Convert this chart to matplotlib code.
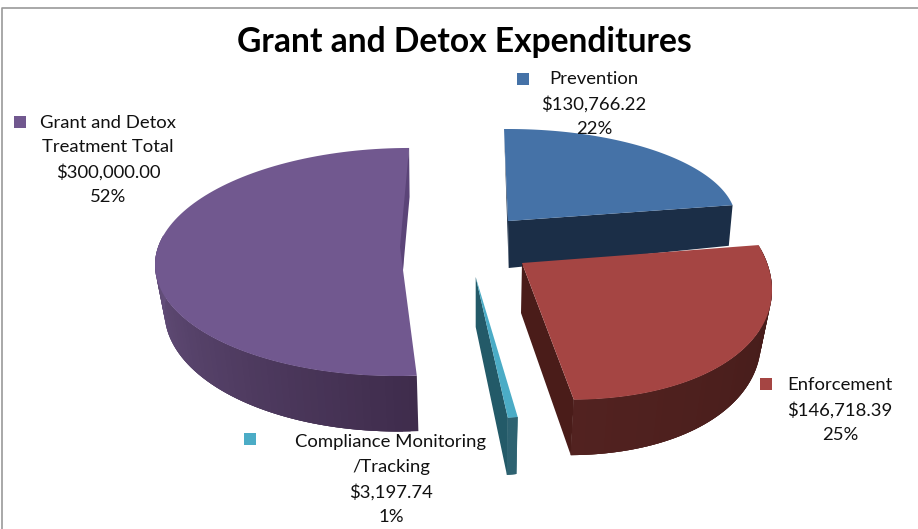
import numpy as np
import matplotlib
matplotlib.use("Agg")
import matplotlib.pyplot as plt
from matplotlib.patches import Polygon, Rectangle

plt.rcParams['font.family'] = ['Lato', 'DejaVu Sans']

# data, in the order the slices go round clockwise from 12 o'clock
names = ['Prevention', 'Enforcement', 'Compliance Monitoring\n/Tracking', 'Grant and Detox\nTreatment Total']
values = [130766.22, 146718.39, 3197.74, 300000.00]
percents = ['22%', '25%', '1%', '52%']

top_colors = ['#4572a7', '#a54543', '#4bacc6', '#71588f']
cut_colors = ['#1b2e47', '#4a1c19', '#235a68', '#5b4478']
# outer wall gradient, from the slice start to the slice end
wall_from = ['#1b2e47', '#431b19', '#2b6170', '#3f2c4c']
wall_to = ['#1b2e47', '#522220', '#2b6170', '#67527f']
# the grant wall is hidden past this angle, no need to shade it
wall_stop = [None, None, None, 285]

# the fake 3d look: where each exploded slice sits and how it is squashed
apex = [(508, 221), (522, 263), (475.7, 277), (403, 270)]
apex_low = [(508.7, 268), (521, 313), (475.7, 327), (405, 317)]
radius_x = [228, 250, 250, 248]
radius_y = [92, 134, 142, 114]
shift_y = [0, 0, 0, -8]
skew = [0, 27, 0, -3]
scale_low = [(0.98, 1.4), (0.96, 1.04), (0.97, 1.05), (0.97, 1.08)]
angle_shift = [-1, -10, -1.7, 2.8]
angle_stretch = [1.0, 1.066, 1.15, 0.9925]

label_x = [594, 840, 391, 108]
label_y = [79.5, 385.5, 442.5, 122.5]
marker_xy = [(517, 73), (760, 378), (244, 433), (14, 116)]
line_gap = 24.7


def rim(i, deg):
    a = np.radians(deg)
    x = radius_x[i] * np.sin(a)
    y = -radius_y[i] * np.cos(a) + shift_y[i] + skew[i] * np.sin(a)
    return x, y


def rim_top(i, deg):
    x, y = rim(i, deg)
    return apex[i][0] + x, apex[i][1] + y


def rim_low(i, deg):
    x, y = rim(i, deg)
    return apex_low[i][0] + x * scale_low[i][0], apex_low[i][1] + y * scale_low[i][1]


def draw_wall(ax, i, a0, a1, zorder):
    # small quads so the colour can slide along the arc, each one runs
    # under the next so no seams show
    c0 = np.array(matplotlib.colors.to_rgb(wall_from[i]))
    c1 = np.array(matplotlib.colors.to_rgb(wall_to[i]))
    steps = np.linspace(a0, a1, 60)
    for k in range(len(steps) - 1):
        t = k / (len(steps) - 2)
        k2 = min(k + 3, len(steps) - 1)
        arc = steps[k:k2 + 1]
        quad = [rim_top(i, d) for d in arc] + [rim_low(i, d) for d in arc[::-1]]
        col = c0 + (c1 - c0) * t
        ax.add_patch(Polygon(quad, closed=True, fc=col, ec='none', zorder=zorder))


fig = plt.figure(figsize=(9.18, 5.29), dpi=100)
ax = fig.add_axes([0, 0, 1, 1])
ax.set_xlim(0, 918)
ax.set_ylim(529, 0)
ax.axis('off')

# frame, only the top and left show
ax.plot([1.5, 1.5, 918], [529, 8, 8], color='#9a9a9a', lw=1.2, zorder=1)

total = sum(values)
start = 0.0
spans = []
for i, v in enumerate(values):
    span = v / total * 360.0
    a0 = start + angle_shift[i]
    a1 = a0 + span * angle_stretch[i]
    spans.append((a0, a1))
    start += span

# back to front: prevention, grant, enforcement, compliance
order = [0, 3, 1, 2]
for i in order:
    a0, a1 = spans[i]
    z = 2 + order.index(i) * 3

    if i == 0:
        # sliver on the left and the big dark face under the slice
        ax.add_patch(Polygon([rim_top(i, a0), apex[i], apex_low[i]], closed=True, fc=cut_colors[i], ec='none', zorder=z))
    if i in (1, 2, 3):
        draw_wall(ax, i, a0, wall_stop[i] or a1, z)
    if i in (0, 1, 2):
        ax.add_patch(Polygon([apex[i], rim_top(i, a1), rim_low(i, a1), apex_low[i]], closed=True, fc=cut_colors[i], ec='none', zorder=z))

    arc = [rim_top(i, d) for d in np.linspace(a0, a1, 120)]
    ax.add_patch(Polygon([apex[i]] + arc, closed=True, fc=top_colors[i], ec='none', zorder=z + 1))

    if i == 3:
        # thin inner wall that shows at the top of the big slice
        tx, ty = rim_top(i, a1)
        ax.add_patch(Polygon([(tx, ty), (tx + 0.5, ty + 49), apex[i], (400, 247)], closed=True, fc=cut_colors[i], ec='none', zorder=z + 2))

ax.text(464.5, 42, 'Grant and Detox Expenditures', ha='center', va='center', fontsize=24.2, fontweight='bold', color='black', zorder=20)

# the labels with their little colour squares
for i in range(len(names)):
    lines = names[i].split('\n') + ['${:,.2f}'.format(values[i]), percents[i]]
    for k, line in enumerate(lines):
        ax.text(label_x[i], label_y[i] + k * line_gap, line, ha='center', va='center', fontsize=13.3, color='#111111', zorder=20)
    ax.add_patch(Rectangle(marker_xy[i], 12, 12, fc=top_colors[i], ec='none', zorder=20))

fig.savefig('out.png', dpi=100)
